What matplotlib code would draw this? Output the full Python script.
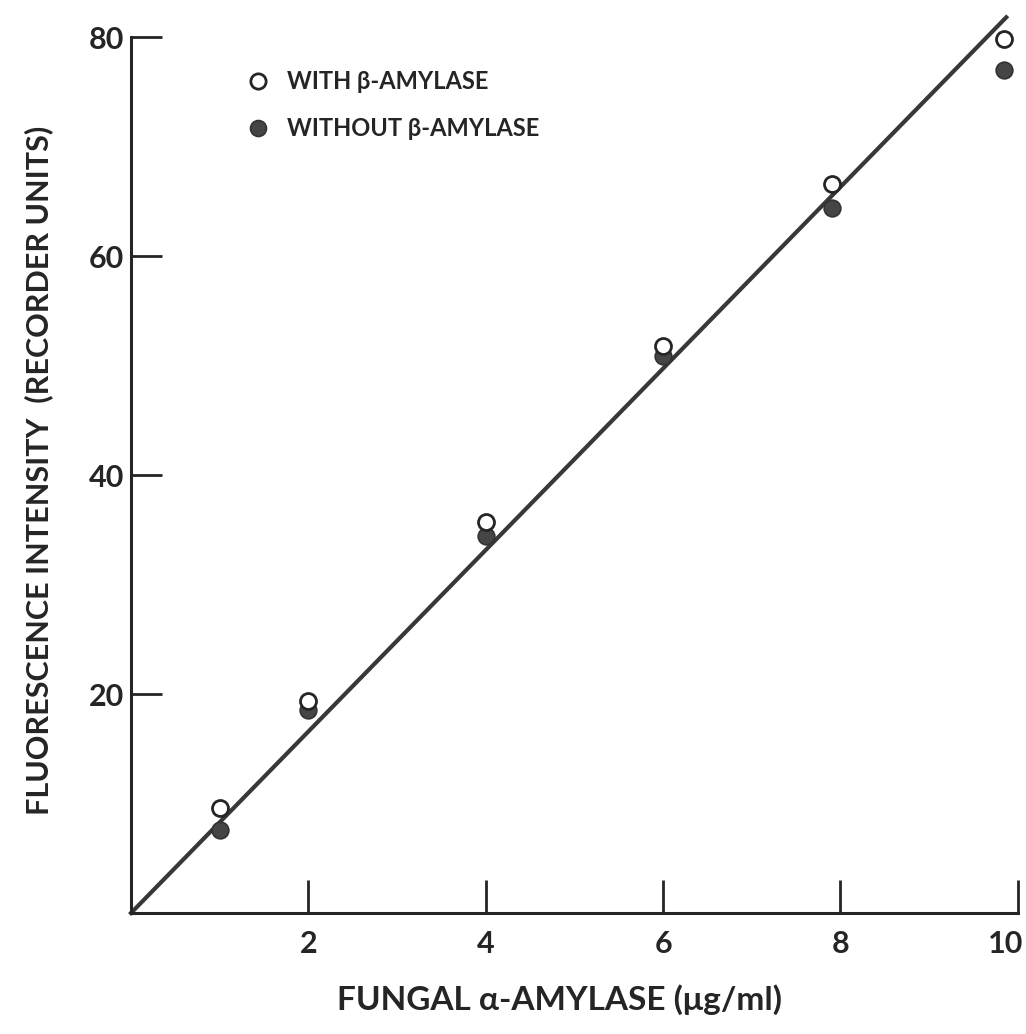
import matplotlib
matplotlib.use("Agg")
import matplotlib.pyplot as plt
from matplotlib.lines import Line2D
import matplotlib.transforms as mtransforms

plt.rcParams['font.family'] = ['Lato', 'DejaVu Sans']
plt.rcParams['font.weight'] = 'bold'

# Data
amylase = [1, 2, 4, 6, 7.9, 9.85]
with_beta = [9.6, 19.4, 35.7, 51.8, 66.6, 79.8]
without_beta = [7.6, 18.5, 34.4, 50.9, 64.4, 77.0]
fit_x = [0, 9.87]
fit_y = [0, 81.8]
xticks = [2, 4, 6, 8, 10]
yticks = [20, 40, 60, 80]

fig = plt.figure(figsize=(10.26, 10.34), dpi=100)
ax = fig.add_axes([0.1277, 0.117, 0.992 - 0.1277, 0.9642 - 0.117])

ink = '#252525'
ax.plot(fit_x, fit_y, color='#383838', lw=3.0, clip_on=False, zorder=2)
ax.plot(amylase, without_beta, 'o', ms=12, mfc='#454545', mec='#333333', mew=1.2,
        ls='none', clip_on=False, zorder=3)
ax.plot(amylase, with_beta, 'o', ms=11.5, mfc='white', mec=ink, mew=2.0,
        ls='none', clip_on=False, zorder=4)

ax.set_xlim(0, 10)
ax.set_ylim(0, 80)
ax.set_xticks(xticks)
ax.set_yticks(yticks)
ax.set_xticklabels([str(t) for t in xticks])
ax.set_yticklabels([str(t) for t in yticks])

for s in ['top', 'right']:
    ax.spines[s].set_visible(False)
for s in ['left', 'bottom']:
    ax.spines[s].set_linewidth(2.2)
    ax.spines[s].set_color(ink)

ax.tick_params(axis='x', direction='in', length=24, width=2.0, color=ink,
               pad=12, labelsize=22, labelcolor=ink)
ax.tick_params(axis='y', direction='in', length=22, width=2.0, color=ink,
               pad=5, labelsize=22, labelcolor=ink)
for lab in ax.get_xticklabels() + ax.get_yticklabels():
    lab.set_fontweight('bold')

# the last x label sits slightly left of its tick in the reference
last = ax.get_xticklabels()[-1]
last.set_transform(last.get_transform() +
                   mtransforms.ScaledTranslation(-12 / 100, 0, fig.dpi_scale_trans))

fig.text(0.545, 0.033, 'FUNGAL \u03b1-AMYLASE (\u03bcg/ml)', ha='center', va='center',
         fontsize=24, fontweight='bold', color=ink)
fig.text(0.038, 0.5455, 'FLUORESCENCE INTENSITY  (RECORDER UNITS)', ha='center',
         va='center', rotation=90, fontsize=22, fontweight='bold', color=ink)

handles = [
    Line2D([], [], marker='o', ls='none', ms=11, mfc='white', mec=ink, mew=2.0),
    Line2D([], [], marker='o', ls='none', ms=11.5, mfc='#454545', mec='#333333', mew=1.2),
]
leg = ax.legend(handles, ['WITH \u03b2-AMYLASE', 'WITHOUT \u03b2-AMYLASE'],
                loc='upper left', bbox_to_anchor=(0.131, 0.962), frameon=False,
                handlelength=0.9, handletextpad=0.8, labelspacing=1.0,
                borderpad=0, prop={'size': 17, 'weight': 'bold'}, borderaxespad=0)
for t in leg.get_texts():
    t.set_color(ink)

fig.savefig('out.png', dpi=100, facecolor='white')
